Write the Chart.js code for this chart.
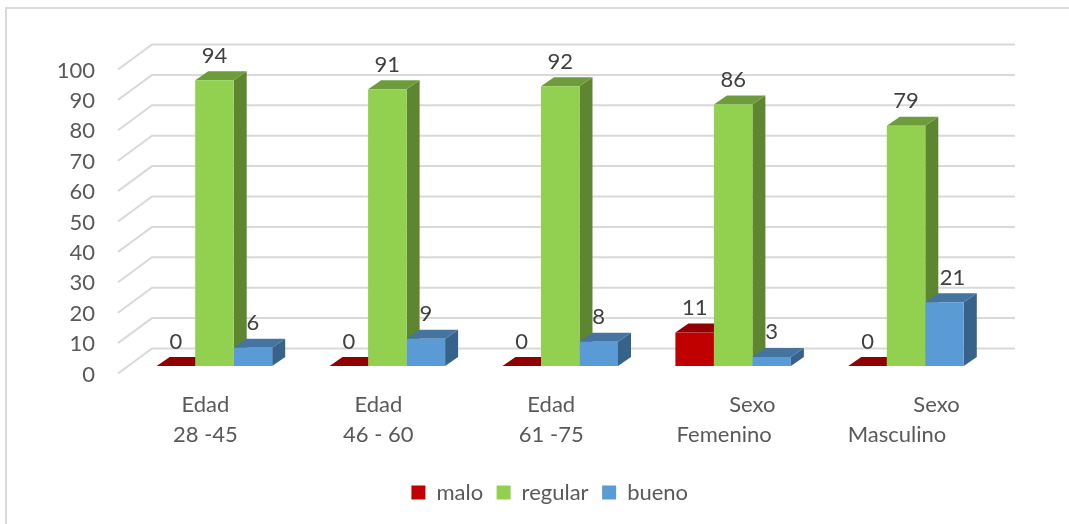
<!DOCTYPE html>
<html>
<head>
<meta charset="utf-8">
<title>Edad y sexo</title>
<script src="https://cdn.jsdelivr.net/npm/chart.js@4"></script>
<style>
    html, body { margin: 0; padding: 0; background: #fff; }
    #wrap { position: relative; width: 1069px; height: 524px; overflow: hidden; }
    #frame { position: absolute; left: 5px; top: 7px; right: -5px; bottom: -5px; border-left: 2px solid #d9d9d9; border-top: 2px solid #d9d9d9; }
    canvas { position: absolute; left: 0; top: 0; }
</style>
</head>
<body>
<div id="wrap">
    <div id="frame"></div>
    <canvas id="chart-canvas" width="1069" height="524"></canvas>
</div>
<script>
var categories = [
    ["Edad", "28 -45"],
    ["Edad", "46 - 60"],
    ["Edad", "61 -75"],
    ["          Sexo", "Femenino"],
    ["              Sexo", "Masculino"]
];
var malo = [0, 0, 0, 11, 0];
var regular = [94, 91, 92, 86, 79];
var bueno = [6, 9, 8, 3, 21];

var fontFamily = "Lato";
var textColor = "#595959";
var labelColor = "#404040";
var gridColor = "#d9d9d9";

// front, top and side colours per series
var faces = [
    { front: "#c00000", top: "#900000", side: "#7a0000" },
    { front: "#92d050", top: "#6e9c3c", side: "#5e8530" },
    { front: "#5b9bd5", top: "#44749f", side: "#376289" }
];

var barDepthX = 13, barDepthY = 9;
var wallLeft = 152, wallRight = 1015, floorLeft = 118;
var wallLift = 17.5, floorDrop = 7.5;

//////////////////////////////////////////////////
/////       Fake 3D walls and bar faces    ///////
//////////////////////////////////////////////////

function polygon(ctx, points, color) {
    ctx.fillStyle = color;
    ctx.beginPath();
    ctx.moveTo(points[0][0], points[0][1]);
    for (var i = 1; i < points.length; i++) {
        ctx.lineTo(points[i][0], points[i][1]);
    }
    ctx.closePath();
    ctx.fill();
}

var depthPlugin = {
    id: 'depth',
    afterLayout: function (chart) {
        // legend sits right of the page centre
        chart.legend.left += 53.5;
        chart.legend.right += 53.5;
    },
    beforeDatasetsDraw: function (chart) {
        var ctx = chart.ctx;
        var yScale = chart.scales.y;

        ctx.save();
        ctx.strokeStyle = gridColor;
        ctx.lineWidth = 2;
        yScale.ticks.forEach(function (tick) {
            var y = yScale.getPixelForValue(tick.value);
            ctx.beginPath();
            ctx.moveTo(floorLeft, y + floorDrop);
            ctx.lineTo(wallLeft, y - wallLift);
            ctx.lineTo(wallRight, y - wallLift);
            ctx.stroke();
        });

        // left to right so each bar covers the side of the one before it
        categories.forEach(function (label, index) {
            chart.data.datasets.forEach(function (dataset, datasetIndex) {
                var bar = chart.getDatasetMeta(datasetIndex).data[index];
                var left = bar.x - bar.width / 2;
                var right = bar.x + bar.width / 2;
                var face = faces[datasetIndex];
                polygon(ctx, [
                    [right, bar.y],
                    [right + barDepthX, bar.y - barDepthY],
                    [right + barDepthX, bar.base - barDepthY],
                    [right, bar.base]
                ], face.side);
                polygon(ctx, [
                    [left, bar.y],
                    [left + barDepthX, bar.y - barDepthY],
                    [right + barDepthX, bar.y - barDepthY],
                    [right, bar.y]
                ], face.top);
            });
        });
        ctx.restore();
    },
    afterDatasetsDraw: function (chart) {
        var ctx = chart.ctx;
        ctx.save();
        ctx.font = "22px " + fontFamily;
        ctx.fillStyle = labelColor;
        ctx.textAlign = "center";
        ctx.textBaseline = "middle";
        chart.data.datasets.forEach(function (dataset, datasetIndex) {
            chart.getDatasetMeta(datasetIndex).data.forEach(function (bar, index) {
                // the 21 label stands a bit right of its bar
                var nudge = dataset.data[index] === 21 ? 8 : 0;
                ctx.fillText(dataset.data[index], bar.x + nudge, bar.y - 24.5);
            });
        });
        ctx.restore();
    }
};

//////////////////////////////////////////////////
/////       For Loading chart.js    //////////////
//////////////////////////////////////////////////

var ctx = document.getElementById('chart-canvas').getContext('2d');
var myChart = new Chart(ctx, {
    type: 'bar',
    data: {
        labels: categories,
        datasets: [
            { label: "malo", data: malo, backgroundColor: faces[0].front },
            { label: "regular", data: regular, backgroundColor: faces[1].front },
            { label: "bueno", data: bueno, backgroundColor: faces[2].front }
        ]
    },
    options: {
        responsive: false,
        animation: false,
        layout: { padding: { top: 62, right: 76.5, bottom: 10.5, left: 0 } },
        datasets: { bar: { barPercentage: 1, categoryPercentage: 0.668 } },
        scales: {
            x: {
                grid: { display: false },
                border: { display: false },
                afterFit: function (scale) { scale.height = 102; },
                ticks: {
                    autoSkip: false,
                    maxRotation: 0,
                    color: textColor,
                    labelOffset: -9,
                    padding: 15.5,
                    font: { family: fontFamily, size: 22, lineHeight: 1.364 }
                }
            },
            y: {
                min: 0,
                max: 100,
                grid: { display: false },
                border: { display: false },
                afterFit: function (scale) { scale.width = 128; },
                ticks: {
                    stepSize: 10,
                    color: textColor,
                    padding: 25,
                    labelOffset: 8.5,
                    font: { family: fontFamily, size: 22 }
                }
            }
        },
        plugins: {
            tooltip: { enabled: false },
            legend: {
                position: 'bottom',
                labels: {
                    boxWidth: 14,
                    boxHeight: 14,
                    padding: 13.5,
                    color: textColor,
                    font: { family: fontFamily, size: 22 }
                }
            }
        }
    },
    plugins: [depthPlugin]
});
</script>
</body>
</html>
